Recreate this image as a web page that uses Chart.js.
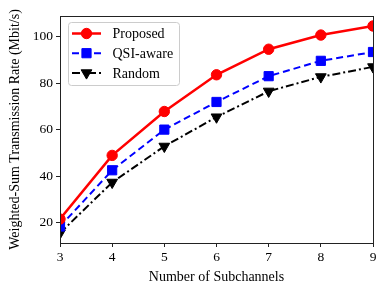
<!DOCTYPE html>
<html>
<head>
<meta charset="utf-8">
<script src="https://cdn.jsdelivr.net/npm/chart.js@4.4.0/dist/chart.umd.min.js"></script>
<style>
  html, body { margin: 0; padding: 0; background: #fff; }
  #wrap { width: 388px; height: 295px; }
</style>
</head>
<body>
<div id="wrap"><canvas id="c" width="388" height="295"></canvas></div>
<script>
// ── Data ──────────────────────────────────────────────────────
const subchannels = [3, 4, 5, 6, 7, 8, 9];
const proposed    = [21.5, 48.9, 67.8, 83.6, 94.6, 100.7, 104.6];
const qsiAware    = [18.3, 42.5, 60.0, 71.9, 83.0, 89.6, 93.4];
const randomSel   = [15.5, 37.3, 52.8, 65.4, 76.5, 82.7, 87.0];
const yTicks      = [20, 40, 60, 80, 100];

const FONT = "'Liberation Serif', 'Times New Roman', serif";

const toXY = (ys) => ys.map((y, i) => ({ x: subchannels[i], y }));

const series = [
  { label: "Proposed",  data: proposed,  color: "#ff0000", width: 2.5, dash: [],           point: "circle",   radius: 5.2, rot: 0 },
  { label: "QSI-aware", data: qsiAware,  color: "#0000ff", width: 2,   dash: [7, 4],       point: "rect",     radius: 6.5, rot: 0 },
  { label: "Random",    data: randomSel, color: "#000000", width: 2,   dash: [8, 3, 2, 3], point: "triangle", radius: 6.2, rot: 180 },
];

// ── Frame + legend drawn inside the plot, matplotlib style ───
const framePlugin = {
  id: "frame",
  afterDraw(chart) {
    const { ctx, chartArea: a } = chart;
    ctx.save();
    ctx.strokeStyle = "#222";
    ctx.lineWidth = 1;
    ctx.strokeRect(a.left + 0.5, a.top + 0.5, a.right - a.left, a.bottom - a.top);

    // legend box
    const bx = 68, by = 22, bw = 111, bh = 63;
    ctx.fillStyle = "rgba(255,255,255,0.85)";
    ctx.strokeStyle = "#cccccc";
    ctx.beginPath();
    ctx.roundRect(bx + 0.5, by + 0.5, bw, bh, 3);
    ctx.fill();
    ctx.stroke();

    ctx.font = `14px ${FONT}`;
    ctx.textBaseline = "middle";
    series.forEach((s, i) => {
      const y = by + 11.5 + i * 19.7;
      const x0 = bx + 4, x1 = bx + 33;
      ctx.strokeStyle = s.color;
      ctx.fillStyle = s.color;
      ctx.lineWidth = s.width;
      ctx.setLineDash(s.dash);
      ctx.beginPath();
      ctx.moveTo(x0, y);
      ctx.lineTo(x1, y);
      ctx.stroke();
      ctx.setLineDash([]);
      ctx.lineWidth = 1;
      Chart.helpers.drawPoint(ctx, {
        pointStyle: s.point, radius: s.radius, rotation: s.rot, borderWidth: 1,
      }, (x0 + x1) / 2, y);
      ctx.fillStyle = "#000";
      ctx.fillText(s.label, bx + 44.5, y + 1);
    });
    ctx.restore();
  },
};

new Chart(document.getElementById("c"), {
  type: "line",
  data: {
    datasets: series.map((s) => ({
      label:            s.label,
      data:             toXY(s.data),
      borderColor:      s.color,
      backgroundColor:  s.color,
      borderWidth:      s.width,
      borderDash:       s.dash,
      pointStyle:       s.point,
      pointRadius:      s.radius,
      pointRotation:    s.rot,
      pointBorderWidth: 1,
      tension:          0,
      fill:             false,
      clip:             0,
    })),
  },
  options: {
    responsive: false,
    animation: false,
    layout: { padding: { top: 16, right: 15, left: 0, bottom: 0 } },
    plugins: { legend: { display: false }, tooltip: { enabled: false } },
    scales: {
      x: {
        type: "linear",
        min: 3, max: 9,
        afterFit: (s) => { s.height = 52; },
        ticks: { stepSize: 1, color: "#000", font: { family: FONT, size: 13.5 }, padding: 2 },
        grid:  { drawOnChartArea: false, tickLength: 4, color: "#222" },
        border: { color: "#222" },
        title: { display: true, text: "Number of Subchannels", color: "#000",
                 font: { family: FONT, size: 14 }, padding: { top: 0, bottom: 9 } },
      },
      y: {
        min: 11.2, max: 108.9,
        afterFit: (s) => { s.width = 60; },
        afterBuildTicks: (s) => { s.ticks = yTicks.map((v) => ({ value: v })); },
        ticks: { color: "#000", font: { family: FONT, size: 13.5 }, padding: 3 },
        grid:  { drawOnChartArea: false, tickLength: 4, color: "#222" },
        border: { color: "#222" },
        title: { display: true, text: "Weighted-Sum Transmission Rate (Mbit/s)", color: "#000",
                 font: { family: FONT, size: 14 }, padding: { bottom: 0, top: 7 } },
      },
    },
  },
  plugins: [framePlugin],
});
</script>
</body>
</html>
